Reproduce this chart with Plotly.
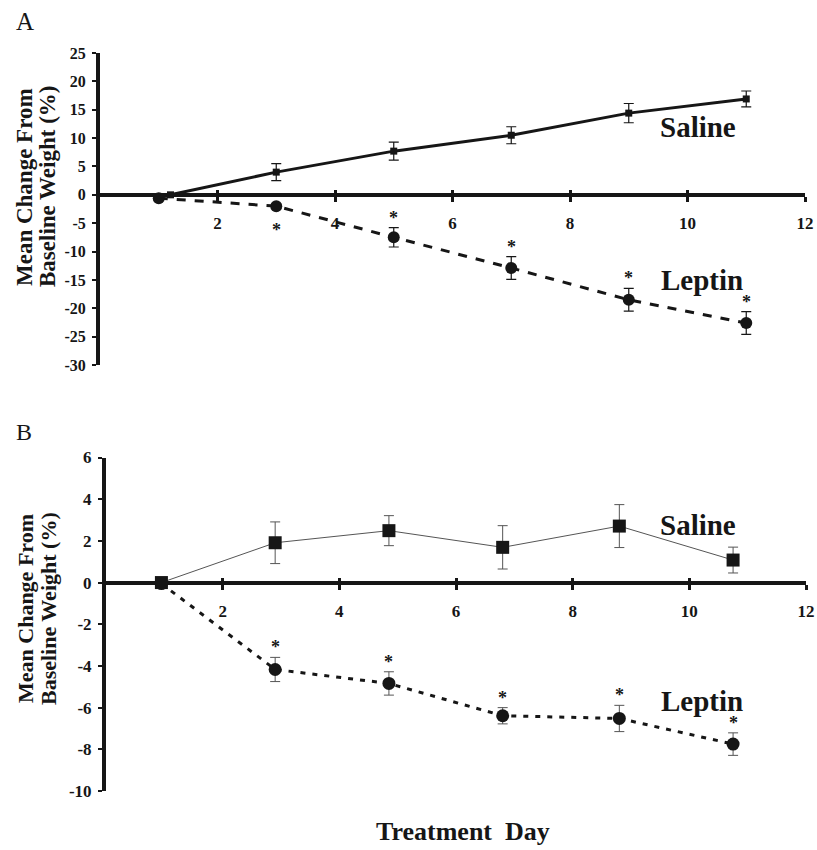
import plotly.graph_objects as go

# ---------------- data ----------------
days_A = [1, 3, 5, 7, 9, 11]
saline_days_A = [1.2, 3, 5, 7, 9, 11]
saline_A = [0.0, 4.0, 7.7, 10.5, 14.4, 16.9]
saline_A_err = [0.0, 1.5, 1.6, 1.5, 1.7, 1.4]
leptin_A = [-0.6, -2.0, -7.5, -12.9, -18.5, -22.6]
leptin_A_err = [0.3, 0.4, 1.7, 2.0, 2.0, 2.0]
sig_A = [False, True, True, True, True, True]

days_B = [0.95, 2.9, 4.85, 6.8, 8.8, 10.75]
saline_B = [0.0, 1.91, 2.49, 1.69, 2.71, 1.08]
saline_B_err = [0.0, 1.0, 0.72, 1.04, 1.03, 0.62]
leptin_B = [-0.05, -4.17, -4.84, -6.39, -6.52, -7.75]
leptin_B_err = [0.0, 0.58, 0.56, 0.39, 0.63, 0.54]
sig_B = [False, True, True, True, True, True]

x_ticks = [2, 4, 6, 8, 10, 12]
y_ticks_A = [25, 20, 15, 10, 5, 0, -5, -10, -15, -20, -25, -30]
y_ticks_B = [6, 4, 2, 0, -2, -4, -6, -8, -10]

# ---------------- geometry ----------------
W, H = 817, 850
FONT = "Liberation Serif"
INK = "#161616"


def fx(px):
    return px / W


def fy(py):
    return 1 - py / H


xdomA = [fx(100), fx(805)]
ydomA = [fy(365), fy(53)]
xdomB = [fx(106), fx(806)]
ydomB = [fy(791), fy(457.5)]
rangeA = [min(y_ticks_A), max(y_ticks_A)]
rangeB = [min(y_ticks_B), max(y_ticks_B)]
xrange_ = [0, 12]


def zero_pos(dom, rng):
    return dom[0] + (0 - rng[0]) / (rng[1] - rng[0]) * (dom[1] - dom[0])


posA = zero_pos(ydomA, rangeA)
posB = zero_pos(ydomB, rangeB)

fig = go.Figure()

# ---- Panel A ----
fig.add_trace(go.Scatter(
    x=days_A, y=leptin_A, mode="lines+markers",
    line=dict(color=INK, width=3, dash="dash"),
    marker=dict(symbol="circle", size=12, color=INK),
    error_y=dict(type="data", array=leptin_A_err, color=INK, thickness=1.2, width=5),
    xaxis="x", yaxis="y", showlegend=False, hoverinfo="skip"))
fig.add_trace(go.Scatter(
    x=saline_days_A, y=saline_A, mode="lines+markers",
    line=dict(color=INK, width=3),
    marker=dict(symbol="square", size=7, color=INK),
    error_y=dict(type="data", array=saline_A_err, color=INK, thickness=1.2, width=5),
    xaxis="x", yaxis="y", showlegend=False, hoverinfo="skip"))

# ---- Panel B ----
fig.add_trace(go.Scatter(
    x=days_B, y=leptin_B, mode="lines+markers",
    line=dict(color=INK, width=3, dash="5px,7px"),
    marker=dict(symbol="circle", size=13, color=INK),
    error_y=dict(type="data", array=leptin_B_err, color="#555", thickness=1, width=5),
    xaxis="x2", yaxis="y2", showlegend=False, hoverinfo="skip"))
fig.add_trace(go.Scatter(
    x=days_B, y=saline_B, mode="lines+markers",
    line=dict(color="#555", width=1),
    marker=dict(symbol="square", size=13, color=INK),
    error_y=dict(type="data", array=saline_B_err, color="#555", thickness=1, width=5),
    xaxis="x2", yaxis="y2", showlegend=False, hoverinfo="skip"))

# dummy traces so the overlay tick axes exist
fig.add_trace(go.Scatter(x=[None], y=[None], xaxis="x3", yaxis="y", showlegend=False, hoverinfo="skip"))
fig.add_trace(go.Scatter(x=[None], y=[None], xaxis="x4", yaxis="y2", showlegend=False, hoverinfo="skip"))

tickfont_x = dict(family=FONT, size=17, color=INK)


def xaxis_main(dom, pos):
    return dict(domain=dom, range=xrange_, anchor="free", position=pos,
                showline=True, linewidth=4, linecolor=INK,
                ticks="outside", ticklen=5, tickwidth=3, tickcolor=INK,
                tickvals=x_ticks, ticktext=["<b>%s</b>" % t for t in x_ticks],
                tickfont=tickfont_x, ticklabelstandoff=7, automargin=False,
                showgrid=False, zeroline=False)


def xaxis_over(over, pos):
    return dict(overlaying=over, range=xrange_, anchor="free", position=pos,
                showline=False, ticks="inside", ticklen=5, tickwidth=3, tickcolor=INK,
                tickvals=x_ticks, showticklabels=False, automargin=False,
                showgrid=False, zeroline=False)


def yaxis_main(dom, rng, ticks, anchor, size):
    return dict(domain=dom, range=rng, anchor=anchor,
                showline=True, linewidth=4, linecolor=INK,
                ticks="outside", ticklen=4, tickwidth=2, tickcolor=INK,
                tickvals=ticks, ticktext=["<b>%s</b>" % t for t in ticks],
                tickfont=dict(family=FONT, size=size, color=INK),
                ticklabelstandoff=3, automargin=False,
                showgrid=False, zeroline=False)


fig.update_layout(
    width=W, height=H,
    margin=dict(l=0, r=0, t=0, b=0, autoexpand=False),
    plot_bgcolor="white", paper_bgcolor="white",
    showlegend=False,
    xaxis=xaxis_main(xdomA, posA),
    xaxis3=xaxis_over("x", posA),
    yaxis=yaxis_main(ydomA, rangeA, y_ticks_A, "x", 16),
    xaxis2=xaxis_main(xdomB, posB),
    xaxis4=xaxis_over("x2", posB),
    yaxis2=yaxis_main(ydomB, rangeB, y_ticks_B, "x2", 17),
)

ann = []
star_font = dict(family=FONT, size=18, color=INK)


def add_stars(days, means, errs, sig, xref, yref):
    for d, m, e, s in zip(days, means, errs, sig):
        if not s:
            continue
        if m + e > -3:  # too close to the axis: star goes below the point
            ann.append(dict(x=d, y=m, xref=xref, yref=yref, text="<b>*</b>", showarrow=False,
                            font=star_font, yshift=-24))
        else:
            ann.append(dict(x=d, y=m + e, xref=xref, yref=yref, text="<b>*</b>", showarrow=False,
                            font=star_font, yshift=10))


add_stars(days_A, leptin_A, leptin_A_err, sig_A, "x", "y")
add_stars(days_B, leptin_B, leptin_B_err, sig_B, "x2", "y2")

lab_font = dict(family=FONT, size=29, color=INK)
ann += [
    dict(x=10.18, y=11.9, xref="x", yref="y", text="<b>Saline</b>", showarrow=False, font=lab_font),
    dict(x=10.24, y=-15.1, xref="x", yref="y", text="<b>Leptin</b>", showarrow=False, font=lab_font),
    dict(x=10.15, y=2.77, xref="x2", yref="y2", text="<b>Saline</b>", showarrow=False, font=lab_font),
    dict(x=10.22, y=-5.67, xref="x2", yref="y2", text="<b>Leptin</b>", showarrow=False, font=lab_font),
]


def paper_text(px, py, text, size, angle=0):
    return dict(x=fx(px), y=fy(py), xref="paper", yref="paper", text=text,
                xanchor="center", yanchor="middle", textangle=angle, showarrow=False,
                font=dict(family=FONT, size=size, color=INK))


# panel letters
ann += [paper_text(25, 21.5, "A", 25), paper_text(24, 432, "B", 24)]

# y titles
for cy, size in [(187, 23), (609, 22)]:
    ann += [
        paper_text(25, cy, "<b>Mean Change From</b>", size, -90),
        paper_text(48, cy, "<b>Baseline Weight (%)</b>", size, -90),
    ]

ann.append(paper_text(463, 831, "<b>Treatment  Day</b>", 26))

fig.update_layout(annotations=ann)
fig.write_html("out.html", config={"displayModeBar": False},
               post_script="document.body.style.margin='0';document.body.style.overflow='hidden';")
